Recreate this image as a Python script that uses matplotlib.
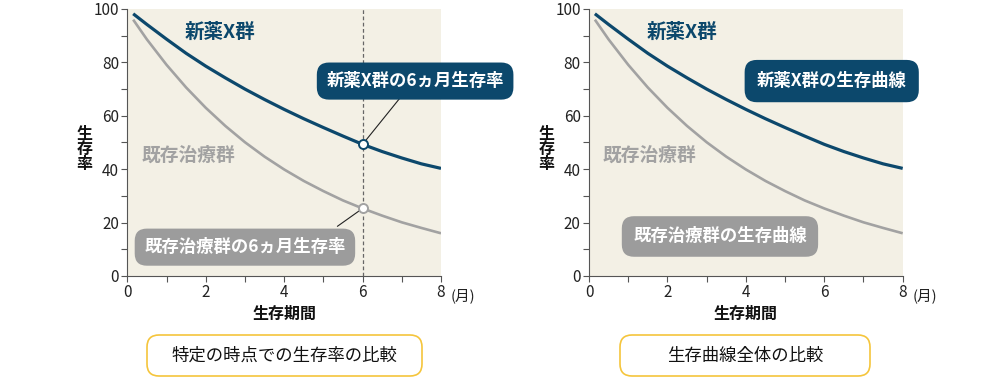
import matplotlib
matplotlib.use('Agg')
import matplotlib.pyplot as plt
from matplotlib.patches import FancyBboxPatch
from matplotlib.ticker import MultipleLocator

plt.rcParams['font.family'] = ['Noto Sans CJK JP', 'DejaVu Sans']

# --- データ ---
months = [0.15, 0.5, 1, 1.5, 2, 2.5, 3, 3.5, 4, 4.5, 5, 5.5, 6, 6.5, 7, 7.5, 8]
new_drug = [98.2, 94.2, 88.7, 83.4, 78.6, 74.2, 70.0, 66.1, 62.4, 58.9, 55.6, 52.4,
            49.3, 46.6, 44.2, 42.0, 40.3]
existing = [96.0, 88.6, 79.1, 70.6, 63.0, 56.2, 50.1, 44.7, 39.9, 35.6, 31.8, 28.3,
            25.3, 22.6, 20.1, 18.0, 16.0]
point_month = 6
point_new = 49.3
point_existing = 25.3

xticks = [0, 2, 4, 6, 8]
yticks = [0, 20, 40, 60, 80, 100]
captions = ['特定の時点での生存率の比較', '生存曲線全体の比較']

BLUE = '#0c486c'
GREY = '#a2a2a2'
GREY_BOX = '#9c9c9c'
BG = '#f3f0e5'
AXC = '#555555'

fig = plt.figure(figsize=(10, 3.82), dpi=100)
ax1 = fig.add_axes([0.1273, 0.2775, 0.3137, 0.699])
ax2 = fig.add_axes([0.589, 0.2775, 0.3137, 0.699])

for ax in (ax1, ax2):
    ax.set_facecolor(BG)
    ax.set_xlim(0, 8)
    ax.set_ylim(0, 100)
    ax.plot(months, existing, color=GREY, lw=1.9, solid_capstyle='butt', zorder=3)
    ax.plot(months, new_drug, color=BLUE, lw=2.3, solid_capstyle='butt', zorder=3)
    for s in ('top', 'right'):
        ax.spines[s].set_visible(False)
    for s in ('left', 'bottom'):
        ax.spines[s].set_color(AXC)
        ax.spines[s].set_linewidth(0.8)
    ax.set_xticks(xticks)
    ax.set_yticks(yticks)
    ax.xaxis.set_minor_locator(MultipleLocator(1))
    ax.yaxis.set_minor_locator(MultipleLocator(10))
    ax.tick_params(which='both', direction='out', color=AXC, width=0.8,
                   labelsize=11, labelcolor='#222222')
    ax.tick_params(which='major', length=4, pad=2)
    ax.tick_params(which='minor', length=4)
    ax.text(8.25, -0.045, '(月)', transform=ax.get_xaxis_transform(),
            ha='left', va='top', fontsize=10.5, color='#222222')
    ax.set_xlabel('生存期間', fontsize=11.5, fontweight='semibold', labelpad=3, color='#111111')
    ax.text(-0.136, 0.476, '生\n存\n率', transform=ax.transAxes, ha='center', va='center',
            fontsize=11.5, fontweight='semibold', linespacing=0.9, color='#111111')
    ax.text(2.36, 91.4, '新薬X群', color=BLUE, fontsize=14, fontweight='bold',
            ha='center', va='center')
    ax.text(1.55, 45.3, '既存治療群', color=GREY, fontsize=13.5, fontweight='bold',
            ha='center', va='center')

# 左: 特定の時点
ax1.axvline(point_month, color='#666666', lw=0.9, ls=(0, (3, 2)), zorder=2)
ax1.annotate('', xy=(point_month, point_new), xytext=(7.0, 67.5),
             arrowprops=dict(arrowstyle='-', color='#222222', lw=0.8), zorder=4)
ax1.annotate('', xy=(point_month, point_existing), xytext=(5.3, 18.0),
             arrowprops=dict(arrowstyle='-', color='#222222', lw=0.8), zorder=4)
ax1.plot([point_month], [point_new], 'o', ms=6.5, mfc='white', mec=BLUE, mew=1.4, zorder=5)
ax1.plot([point_month], [point_existing], 'o', ms=6.5, mfc='white', mec=GREY, mew=1.4, zorder=5)
ax1.text(7.34, 73, '新薬X群の6ヵ月生存率', color='white', fontsize=12.5, fontweight='bold',
         ha='center', va='center', zorder=6, clip_on=False,
         bbox=dict(boxstyle='round,pad=0.55,rounding_size=0.7', fc=BLUE, ec='none'))
ax1.text(3.0, 10.8, '既存治療群の6ヵ月生存率', color='white', fontsize=12.5, fontweight='bold',
         ha='center', va='center', zorder=6,
         bbox=dict(boxstyle='round,pad=0.55,rounding_size=0.7', fc=GREY_BOX, ec='none'))

# 右: 生存曲線全体
ax2.text(6.19, 73, '新薬X群の生存曲線', color='white', fontsize=12.5, fontweight='bold',
         ha='center', va='center', zorder=6, clip_on=False,
         bbox=dict(boxstyle='round,pad=0.7,rounding_size=0.7', fc=BLUE, ec='none'))
ax2.text(3.34, 14.8, '既存治療群の生存曲線', color='white', fontsize=12.5, fontweight='bold',
         ha='center', va='center', zorder=6,
         bbox=dict(boxstyle='round,pad=0.65,rounding_size=0.7', fc=GREY_BOX, ec='none'))

# 下部のキャプション枠
W, H = 1000, 382
for (x0, x1), cap in zip([(147, 422), (620, 870)], captions):
    y0, y1 = 335, 376
    box = FancyBboxPatch((x0 / W, 1 - y1 / H), (x1 - x0) / W, (y1 - y0) / H,
                         boxstyle='round,pad=0,rounding_size=0.012',
                         transform=fig.transFigure, fc='white', ec='#f5c53c', lw=1.2,
                         mutation_aspect=W / H)
    fig.patches.append(box)
    fig.text((x0 + x1) / 2 / W, 1 - (y0 + y1) / 2 / H, cap, ha='center', va='center',
             fontsize=12.5, color='#111111')

fig.savefig('out.png', dpi=100)
